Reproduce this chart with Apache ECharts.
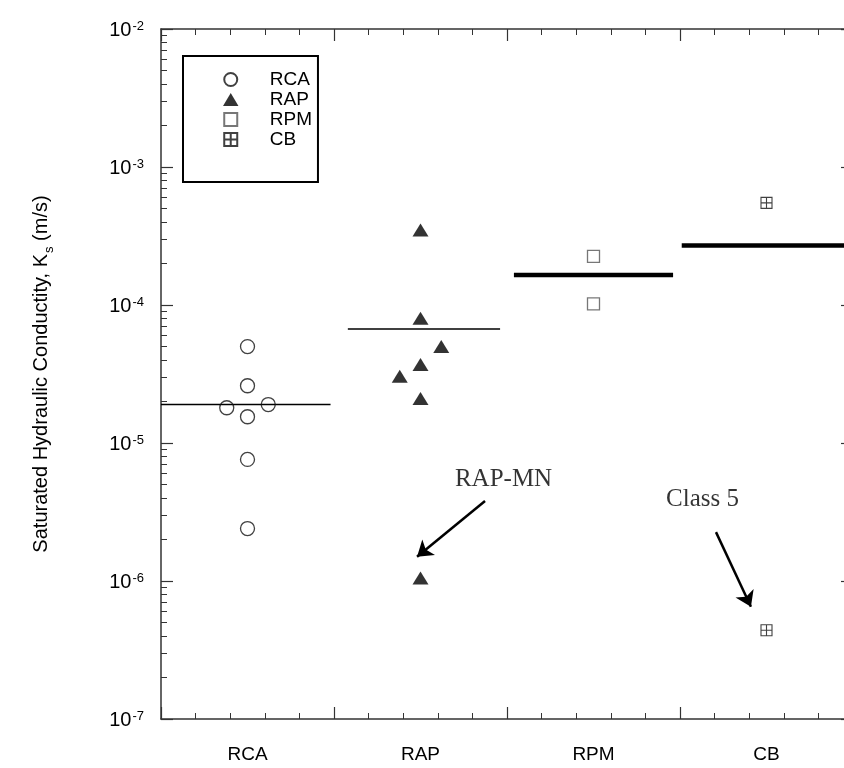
<!DOCTYPE html>
<html><head><meta charset="utf-8">
<script src="https://cdn.jsdelivr.net/npm/echarts@6/dist/echarts.min.js"></script>
<style>html,body{margin:0;padding:0;background:#fff}#c{width:844px;height:768px}</style>
</head><body><div id="c"></div>
<script>
// ---- data ----
const categories = ['RCA', 'RAP', 'RPM', 'CB'];
const rcaX = [0.5, 0.5, 0.38, 0.62, 0.5, 0.5, 0.5];
const rcaK = [5.0e-5, 2.6e-5, 1.8e-5, 1.9e-5, 1.55e-5, 7.6e-6, 2.4e-6];
const rapX = [1.5, 1.5, 1.62, 1.5, 1.38, 1.5, 1.5];
const rapK = [3.5e-4, 8.0e-5, 5.0e-5, 3.7e-5, 3.05e-5, 2.1e-5, 1.05e-6];
const rpmX = [2.5, 2.5];
const rpmK = [2.25e-4, 1.02e-4];
const cbX = [3.5, 3.5];
const cbK = [5.5e-4, 4.4e-7];
const meanK = [1.9e-5, 6.7e-5, 1.65e-4, 2.7e-4];
const meanFrom = [0, 1.08, 2.04, 3.01];
const meanTo = [0.98, 1.96, 2.96, 3.99];
const yDecadeExp = [-7, -6, -5, -4, -3, -2];
const annotText = ['RAP-MN', 'Class 5'];
const annotAt = [[1.98, 5.4e-6], [3.13, 3.9e-6]];
const arrowFrom = [[1.873, 3.8e-6], [3.208, 2.26e-6]];
const arrowTo = [[1.48, 1.5e-6], [3.41, 6.5e-7]];

// ---- helpers ----
const SANS = '"Liberation Sans", Arial, sans-serif';
const SERIF = '"Liberation Serif", "Times New Roman", serif';
const AX = '#333';
const minorExp = [];
for (let i = 0; i < yDecadeExp.length - 1; i++) {
  for (let k = 2; k <= 9; k++) minorExp.push(yDecadeExp[i] + Math.log10(k));
}
const zip = (xs, ys) => xs.map((x, i) => [x, ys[i]]);

const TRI = 'path://M5 0L10 8.4H0Z';
const RECT = 'path://M0 0H10V10H0Z';
const GRIDSQ = 'path://M0 0H10V10H0Z M5 0V10 M0 5H10';

const chart = echarts.init(document.getElementById('c'), null, {renderer: 'canvas'});

const baseX = (pos) => ({
  type: 'value', min: 0, max: 4, interval: 1, position: pos,
  axisLine: {show: true, lineStyle: {color: AX, width: 1.5}},
  axisTick: {show: true, inside: true, length: 12, lineStyle: {color: AX, width: 1.2}},
  minorTick: {show: true, splitNumber: 5, length: 6, lineStyle: {color: AX, width: 1}},
  axisLabel: {show: false}, splitLine: {show: false}, minorSplitLine: {show: false}
});
const logY = (pos, labels) => ({
  type: 'log', logBase: 10, min: 1e-7, max: 1e-2, interval: 1, position: pos,
  axisLine: {show: true, lineStyle: {color: AX, width: 1.5}},
  axisTick: {show: true, inside: true, length: 12, lineStyle: {color: AX, width: 1.2}},
  minorTick: {show: false}, splitLine: {show: false},
  axisLabel: labels ? {
    show: true, margin: 17, padding: [12, 0, 0, 0],
    formatter: v => '{b|10}{s|' + Math.round(Math.log10(v)) + '}',
    rich: {
      b: {fontFamily: SANS, fontSize: 20, color: '#000', lineHeight: 30, verticalAlign: 'top'},
      s: {fontFamily: SANS, fontSize: 13, color: '#000', lineHeight: 16, verticalAlign: 'top', padding: [0, 0, 0, 1]}
    }
  } : {show: false}
});
const minorY = (pos) => ({
  type: 'value', min: -7, max: -2, position: pos,
  axisLine: {show: false},
  axisTick: {show: true, inside: true, length: 6, customValues: minorExp, lineStyle: {color: AX, width: 1}},
  axisLabel: {show: false}, splitLine: {show: false}
});

const yLeft = logY('left', true);
Object.assign(yLeft, {
  name: '{n|Saturated Hydraulic Conductity, K}{sub|s}{n| (m/s)}',
  nameLocation: 'middle', nameRotate: 90, nameGap: 105,
  nameTextStyle: {
    rich: {
      n: {fontFamily: SANS, fontSize: 20, color: '#000', lineHeight: 25, verticalAlign: 'top'},
      sub: {fontFamily: SANS, fontSize: 13, color: '#000', lineHeight: 13, verticalAlign: 'bottom', padding: [0, 0, 0, 1]}
    }
  }
});

const series = [];
meanK.forEach((k, i) => {
  series.push({
    type: 'line', xAxisIndex: 0, yAxisIndex: 0, silent: true, symbol: 'none', z: 1,
    data: [[meanFrom[i], k], [meanTo[i], k]],
    lineStyle: {color: '#000', width: i < 2 ? 1.4 : 4.5}
  });
});
series.push({
  name: 'RCA', type: 'scatter', xAxisIndex: 0, yAxisIndex: 0, data: zip(rcaX, rcaK),
  symbol: 'circle', symbolSize: 14, z: 3,
  itemStyle: {color: 'rgba(255,255,255,0)', borderColor: '#111', borderWidth: 1.3}
});
series.push({
  name: 'RAP', type: 'scatter', xAxisIndex: 0, yAxisIndex: 0, data: zip(rapX, rapK),
  symbol: TRI, symbolSize: [16, 13], z: 3,
  itemStyle: {color: '#000'}
});
series.push({
  name: 'RPM', type: 'scatter', xAxisIndex: 0, yAxisIndex: 0, data: zip(rpmX, rpmK),
  symbol: RECT, symbolSize: 12, z: 3,
  itemStyle: {color: '#fff', borderColor: '#555', borderWidth: 1.3}
});
series.push({
  name: 'CB', type: 'scatter', xAxisIndex: 0, yAxisIndex: 0, data: zip(cbX, cbK),
  symbol: GRIDSQ, symbolSize: 11, z: 3,
  itemStyle: {color: '#fff', borderColor: '#111', borderWidth: 1.1}
});
series.push({
  type: 'scatter', xAxisIndex: 0, yAxisIndex: 0, silent: true, symbolSize: 0, z: 4,
  data: annotText.map((t, i) => ({name: t, value: annotAt[i]})),
  label: {show: true, position: 'inside', formatter: p => p.name,
    fontFamily: SERIF, fontSize: 25, color: '#000'},
  markLine: {
    silent: true, symbol: ['none', 'arrow'], symbolSize: 15,
    lineStyle: {color: '#000', width: 2.5, type: 'solid'},
    label: {show: false},
    data: arrowFrom.map((f, i) => [{coord: f}, {coord: arrowTo[i]}])
  }
});

chart.setOption({
  animation: false,
  backgroundColor: '#fff',
  grid: {left: 161, top: 29, width: 692, height: 690, containLabel: false, outerBoundsMode: 'none'},
  legend: {
    data: categories, selectedMode: false, symbolKeepAspect: true,
    left: 183, top: 56, orient: 'vertical',
    padding: [14, 6, 33, 40], itemWidth: 68, itemHeight: 13, itemGap: 1,
    borderColor: '#000', borderWidth: 2,
    textStyle: {fontFamily: SANS, fontSize: 19, color: '#000'}
  },
  xAxis: [
    baseX('bottom'),
    {type: 'category', data: categories, position: 'bottom', boundaryGap: true,
      axisLine: {show: false}, axisTick: {show: false}, splitLine: {show: false},
      axisLabel: {fontFamily: SANS, fontSize: 19, color: '#000', margin: 26}},
    baseX('top')
  ],
  yAxis: [yLeft, minorY('left'), logY('right', false), minorY('right')],
  series: series
});
</script>
</body></html>
